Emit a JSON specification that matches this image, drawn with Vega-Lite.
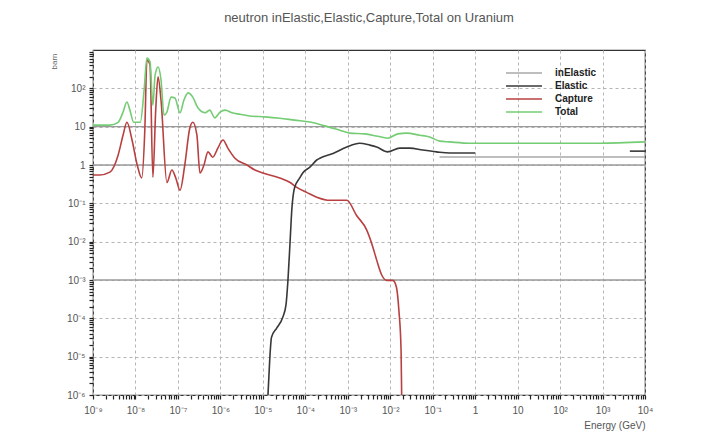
{
  "$schema": "https://vega.github.io/schema/vega-lite/v6.json",
  "width": 552,
  "height": 345,
  "autosize": {"type": "none"},
  "padding": {"left": 93, "top": 50, "right": 65, "bottom": 45},
  "background": "white",
  "title": {"text": "neutron inElastic,Elastic,Capture,Total on Uranium", "fontSize": 13, "font": "Liberation Sans", "fontWeight": "normal", "color": "#555555", "anchor": "middle", "offset": 22},
  "config": {"view": {"stroke": "#333333", "strokeWidth": 1.2}, "font": "Liberation Sans", "axis": {"ticks": true}},
  "layer": [
    {
      "data": {"values": [{"level": 10}, {"level": 1}, {"level": 0.001}]},
      "mark": {"type": "rule", "color": "#9a9a9a", "strokeWidth": 1.3},
      "encoding": {
        "y": {"field": "level", "type": "quantitative", "scale": {"type": "log", "domain": [1e-6, 1000]}}
      }
    },
    {
      "data": {"values": [
        {"series": "Capture", "seg": "c", "E": 1.0e-9, "s": 0.55},
        {"series": "Capture", "seg": "c", "E": 1.45e-9, "s": 0.55},
        {"series": "Capture", "seg": "c", "E": 2.5e-9, "s": 0.65},
        {"series": "Capture", "seg": "c", "E": 3.9e-9, "s": 1.8},
        {"series": "Capture", "seg": "c", "E": 5.1e-9, "s": 6.0},
        {"series": "Capture", "seg": "c", "E": 6.3e-9, "s": 13},
        {"series": "Capture", "seg": "c", "E": 8.3e-9, "s": 4.5},
        {"series": "Capture", "seg": "c", "E": 1.1e-8, "s": 1.0},
        {"series": "Capture", "seg": "c", "E": 1.4e-8, "s": 0.46},
        {"series": "Capture", "seg": "c", "E": 1.66e-8, "s": 8.1},
        {"series": "Capture", "seg": "c", "E": 1.86e-8, "s": 550},
        {"series": "Capture", "seg": "c", "E": 2.2e-8, "s": 410},
        {"series": "Capture", "seg": "c", "E": 2.57e-8, "s": 0.48},
        {"series": "Capture", "seg": "c", "E": 3.0e-8, "s": 27},
        {"series": "Capture", "seg": "c", "E": 3.4e-8, "s": 200},
        {"series": "Capture", "seg": "c", "E": 4.0e-8, "s": 49},
        {"series": "Capture", "seg": "c", "E": 5.5e-8, "s": 0.35},
        {"series": "Capture", "seg": "c", "E": 7.2e-8, "s": 0.74},
        {"series": "Capture", "seg": "c", "E": 8.9e-8, "s": 0.46},
        {"series": "Capture", "seg": "c", "E": 1.12e-7, "s": 0.22},
        {"series": "Capture", "seg": "c", "E": 1.45e-7, "s": 1.0},
        {"series": "Capture", "seg": "c", "E": 1.9e-7, "s": 9.1},
        {"series": "Capture", "seg": "c", "E": 2.24e-7, "s": 13},
        {"series": "Capture", "seg": "c", "E": 2.8e-7, "s": 6.0},
        {"series": "Capture", "seg": "c", "E": 3.3e-7, "s": 0.62},
        {"series": "Capture", "seg": "c", "E": 4.1e-7, "s": 1.0},
        {"series": "Capture", "seg": "c", "E": 5.1e-7, "s": 2.2},
        {"series": "Capture", "seg": "c", "E": 6.6e-7, "s": 1.6},
        {"series": "Capture", "seg": "c", "E": 8.7e-7, "s": 2.75},
        {"series": "Capture", "seg": "c", "E": 1.15e-6, "s": 4.5},
        {"series": "Capture", "seg": "c", "E": 1.5e-6, "s": 2.75},
        {"series": "Capture", "seg": "c", "E": 2.2e-6, "s": 1.5},
        {"series": "Capture", "seg": "c", "E": 4.2e-6, "s": 1.0},
        {"series": "Capture", "seg": "c", "E": 6.5e-6, "s": 0.74},
        {"series": "Capture", "seg": "c", "E": 1.0e-5, "s": 0.62},
        {"series": "Capture", "seg": "c", "E": 2.5e-5, "s": 0.46},
        {"series": "Capture", "seg": "c", "E": 4.4e-5, "s": 0.35},
        {"series": "Capture", "seg": "c", "E": 6.3e-5, "s": 0.26},
        {"series": "Capture", "seg": "c", "E": 1.1e-4, "s": 0.19},
        {"series": "Capture", "seg": "c", "E": 1.86e-4, "s": 0.145},
        {"series": "Capture", "seg": "c", "E": 3.8e-4, "s": 0.12},
        {"series": "Capture", "seg": "c", "E": 9.5e-4, "s": 0.12},
        {"series": "Capture", "seg": "c", "E": 1.6e-3, "s": 0.049},
        {"series": "Capture", "seg": "c", "E": 2.8e-3, "s": 0.02},
        {"series": "Capture", "seg": "c", "E": 3.9e-3, "s": 0.0072},
        {"series": "Capture", "seg": "c", "E": 4.8e-3, "s": 0.0033},
        {"series": "Capture", "seg": "c", "E": 6.3e-3, "s": 0.00135},
        {"series": "Capture", "seg": "c", "E": 8.3e-3, "s": 0.00098},
        {"series": "Capture", "seg": "c", "E": 1.15e-2, "s": 0.00098},
        {"series": "Capture", "seg": "c", "E": 1.4e-2, "s": 0.00065},
        {"series": "Capture", "seg": "c", "E": 1.6e-2, "s": 0.00016},
        {"series": "Capture", "seg": "c", "E": 1.8e-2, "s": 1.5e-5},
        {"series": "Capture", "seg": "c", "E": 1.86e-2, "s": 1e-6},
        {"series": "Elastic", "seg": "e1", "E": 1.32e-5, "s": 1e-6},
        {"series": "Elastic", "seg": "e1", "E": 1.45e-5, "s": 8.1e-6},
        {"series": "Elastic", "seg": "e1", "E": 1.6e-5, "s": 3.2e-5},
        {"series": "Elastic", "seg": "e1", "E": 2.1e-5, "s": 5.5e-5},
        {"series": "Elastic", "seg": "e1", "E": 2.95e-5, "s": 1.07e-4},
        {"series": "Elastic", "seg": "e1", "E": 3.5e-5, "s": 2.2e-4},
        {"series": "Elastic", "seg": "e1", "E": 3.9e-5, "s": 9.8e-4},
        {"series": "Elastic", "seg": "e1", "E": 4.4e-5, "s": 0.011},
        {"series": "Elastic", "seg": "e1", "E": 4.8e-5, "s": 0.066},
        {"series": "Elastic", "seg": "e1", "E": 5.6e-5, "s": 0.26},
        {"series": "Elastic", "seg": "e1", "E": 7.4e-5, "s": 0.46},
        {"series": "Elastic", "seg": "e1", "E": 8.7e-5, "s": 0.62},
        {"series": "Elastic", "seg": "e1", "E": 1.3e-4, "s": 0.89},
        {"series": "Elastic", "seg": "e1", "E": 1.86e-4, "s": 1.35},
        {"series": "Elastic", "seg": "e1", "E": 2.2e-4, "s": 1.5},
        {"series": "Elastic", "seg": "e1", "E": 4.5e-4, "s": 2.0},
        {"series": "Elastic", "seg": "e1", "E": 9.5e-4, "s": 2.95},
        {"series": "Elastic", "seg": "e1", "E": 1.9e-3, "s": 3.7},
        {"series": "Elastic", "seg": "e1", "E": 3.3e-3, "s": 3.3},
        {"series": "Elastic", "seg": "e1", "E": 4.8e-3, "s": 2.95},
        {"series": "Elastic", "seg": "e1", "E": 8.7e-3, "s": 2.2},
        {"series": "Elastic", "seg": "e1", "E": 1.66e-2, "s": 2.75},
        {"series": "Elastic", "seg": "e1", "E": 2.9e-2, "s": 2.75},
        {"series": "Elastic", "seg": "e1", "E": 5.8e-2, "s": 2.45},
        {"series": "Elastic", "seg": "e1", "E": 0.123, "s": 2.2},
        {"series": "Elastic", "seg": "e1", "E": 0.25, "s": 2.05},
        {"series": "Elastic", "seg": "e1", "E": 0.74, "s": 2.05},
        {"series": "Elastic", "seg": "e1", "E": 1.0, "s": 2.05},
        {"series": "Elastic", "seg": "e2", "E": 4400, "s": 2.3},
        {"series": "Elastic", "seg": "e2", "E": 10000, "s": 2.3},
        {"series": "inElastic", "seg": "i", "E": 0.145, "s": 1.62},
        {"series": "inElastic", "seg": "i", "E": 10000, "s": 1.62},
        {"series": "Total", "seg": "t", "E": 1.0e-9, "s": 11},
        {"series": "Total", "seg": "t", "E": 2.5e-9, "s": 11},
        {"series": "Total", "seg": "t", "E": 3.9e-9, "s": 13},
        {"series": "Total", "seg": "t", "E": 5.1e-9, "s": 24},
        {"series": "Total", "seg": "t", "E": 6.3e-9, "s": 44},
        {"series": "Total", "seg": "t", "E": 7.4e-9, "s": 27},
        {"series": "Total", "seg": "t", "E": 9.1e-9, "s": 13},
        {"series": "Total", "seg": "t", "E": 1.3e-8, "s": 13},
        {"series": "Total", "seg": "t", "E": 1.6e-8, "s": 91},
        {"series": "Total", "seg": "t", "E": 1.86e-8, "s": 620},
        {"series": "Total", "seg": "t", "E": 2.2e-8, "s": 490},
        {"series": "Total", "seg": "t", "E": 2.57e-8, "s": 36},
        {"series": "Total", "seg": "t", "E": 2.9e-8, "s": 220},
        {"series": "Total", "seg": "t", "E": 3.4e-8, "s": 360},
        {"series": "Total", "seg": "t", "E": 4.0e-8, "s": 165},
        {"series": "Total", "seg": "t", "E": 4.7e-8, "s": 20},
        {"series": "Total", "seg": "t", "E": 5.5e-8, "s": 24},
        {"series": "Total", "seg": "t", "E": 6.9e-8, "s": 59},
        {"series": "Total", "seg": "t", "E": 8.5e-8, "s": 56},
        {"series": "Total", "seg": "t", "E": 1.12e-7, "s": 23},
        {"series": "Total", "seg": "t", "E": 1.38e-7, "s": 49},
        {"series": "Total", "seg": "t", "E": 1.74e-7, "s": 76},
        {"series": "Total", "seg": "t", "E": 2.24e-7, "s": 59},
        {"series": "Total", "seg": "t", "E": 2.95e-7, "s": 31},
        {"series": "Total", "seg": "t", "E": 4.4e-7, "s": 23},
        {"series": "Total", "seg": "t", "E": 5.6e-7, "s": 27},
        {"series": "Total", "seg": "t", "E": 7.4e-7, "s": 17},
        {"series": "Total", "seg": "t", "E": 9.8e-7, "s": 24},
        {"series": "Total", "seg": "t", "E": 1.3e-6, "s": 27},
        {"series": "Total", "seg": "t", "E": 1.86e-6, "s": 23},
        {"series": "Total", "seg": "t", "E": 2.9e-6, "s": 21},
        {"series": "Total", "seg": "t", "E": 4.9e-6, "s": 19},
        {"series": "Total", "seg": "t", "E": 1.12e-5, "s": 18},
        {"series": "Total", "seg": "t", "E": 2.5e-5, "s": 16.6},
        {"series": "Total", "seg": "t", "E": 5.6e-5, "s": 14.8},
        {"series": "Total", "seg": "t", "E": 1.3e-4, "s": 13.2},
        {"series": "Total", "seg": "t", "E": 2.9e-4, "s": 10.5},
        {"series": "Total", "seg": "t", "E": 6.5e-4, "s": 8.1},
        {"series": "Total", "seg": "t", "E": 1.12e-3, "s": 6.8},
        {"series": "Total", "seg": "t", "E": 2.5e-3, "s": 6.5},
        {"series": "Total", "seg": "t", "E": 5.1e-3, "s": 5.6},
        {"series": "Total", "seg": "t", "E": 8.7e-3, "s": 5.0},
        {"series": "Total", "seg": "t", "E": 1.5e-2, "s": 6.5},
        {"series": "Total", "seg": "t", "E": 2.45e-2, "s": 6.8},
        {"series": "Total", "seg": "t", "E": 4.9e-2, "s": 6.0},
        {"series": "Total", "seg": "t", "E": 8.5e-2, "s": 5.4},
        {"series": "Total", "seg": "t", "E": 0.145, "s": 4.2},
        {"series": "Total", "seg": "t", "E": 0.25, "s": 4.0},
        {"series": "Total", "seg": "t", "E": 0.74, "s": 3.7},
        {"series": "Total", "seg": "t", "E": 33, "s": 3.7},
        {"series": "Total", "seg": "t", "E": 850, "s": 3.7},
        {"series": "Total", "seg": "t", "E": 10000, "s": 4.0}
      ]},
      "mark": {"type": "line", "strokeWidth": 1.6, "clip": true, "interpolate": "monotone"},
      "encoding": {
        "x": {
          "field": "E", "type": "quantitative",
          "scale": {"type": "log", "domain": [1e-9, 10000]},
          "axis": {
            "title": "Energy (GeV)", "titleFontSize": 10, "titleFontWeight": "normal", "titleColor": "#555555",
            "titleAnchor": "end", "titleAlign": "right", "titleX": 552, "titleY": 30, "titleBaseline": "middle",
            "values": [1e-9,2e-9,3e-9,4e-9,5e-9,6e-9,7e-9,8e-9,9e-9,1e-8,2e-8,3e-8,4e-8,5e-8,6e-8,7e-8,8e-8,9e-8,1e-7,2e-7,3e-7,4e-7,5e-7,6e-7,7e-7,8e-7,9e-7,1e-6,2e-6,3e-6,4e-6,5e-6,6e-6,7e-6,8e-6,9e-6,1e-5,2e-5,3e-5,4e-5,5e-5,6e-5,7e-5,8e-5,9e-5,1e-4,2e-4,3e-4,4e-4,5e-4,6e-4,7e-4,8e-4,9e-4,1e-3,2e-3,3e-3,4e-3,5e-3,6e-3,7e-3,8e-3,9e-3,1e-2,2e-2,3e-2,4e-2,5e-2,6e-2,7e-2,8e-2,9e-2,0.1,0.2,0.3,0.4,0.5,0.6,0.7,0.8,0.9,1,2,3,4,5,6,7,8,9,10,20,30,40,50,60,70,80,90,100,200,300,400,500,600,700,800,900,1000,2000,3000,4000,5000,6000,7000,8000,9000,10000],
            "labelExpr": "abs(log(datum.value)/LN10-round(log(datum.value)/LN10))>0.001?'':datum.value==1?'1':datum.value==10?'10':'10'+(round(log(datum.value)/LN10)<0?'⁻':'')+substring('⁰¹²³⁴⁵⁶⁷⁸⁹',abs(round(log(datum.value)/LN10)),abs(round(log(datum.value)/LN10))+1)",
            "labelFontSize": 10, "labelColor": "#555555", "labelFlush": false, "labelOverlap": false,
            "domain": false, "ticks": true,
            "tickSize": 4, "tickWidth": 1.2, "tickColor": "#222222",
            "tickOpacity": 1,
            "labelPadding": 6,
            "grid": true, "gridDash": [3, 3], "gridColor": "#b5b5b5",
            "gridOpacity": {"condition": {"test": "abs(log(datum.value)/LN10-round(log(datum.value)/LN10))<0.001", "value": 1}, "value": 0}
          }
        },
        "y": {
          "field": "s", "type": "quantitative",
          "scale": {"type": "log", "domain": [1e-6, 1000]},
          "axis": {
            "title": "barn", "titleFontSize": 8, "titleFontWeight": "normal", "titleColor": "#666666",
            "titleAngle": -90, "titleAlign": "right", "titleBaseline": "middle", "titleX": -39, "titleY": 3,
            "values": [1e-6,2e-6,3e-6,4e-6,5e-6,6e-6,7e-6,8e-6,9e-6,1e-5,2e-5,3e-5,4e-5,5e-5,6e-5,7e-5,8e-5,9e-5,1e-4,2e-4,3e-4,4e-4,5e-4,6e-4,7e-4,8e-4,9e-4,1e-3,2e-3,3e-3,4e-3,5e-3,6e-3,7e-3,8e-3,9e-3,1e-2,2e-2,3e-2,4e-2,5e-2,6e-2,7e-2,8e-2,9e-2,0.1,0.2,0.3,0.4,0.5,0.6,0.7,0.8,0.9,1,2,3,4,5,6,7,8,9,10,20,30,40,50,60,70,80,90,100,200,300,400,500,600,700,800,900],
            "labelExpr": "abs(log(datum.value)/LN10-round(log(datum.value)/LN10))>0.001?'':datum.value==1?'1':datum.value==10?'10':'10'+(round(log(datum.value)/LN10)<0?'⁻':'')+substring('⁰¹²³⁴⁵⁶⁷⁸⁹',abs(round(log(datum.value)/LN10)),abs(round(log(datum.value)/LN10))+1)",
            "labelFontSize": 10, "labelColor": "#555555", "labelFlush": false, "labelOverlap": false,
            "domain": false, "ticks": true,
            "tickSize": 4, "tickWidth": 1.2, "tickColor": "#222222",
            "tickOpacity": 1,
            "labelPadding": 4,
            "grid": true, "gridDash": [3, 3], "gridColor": "#b5b5b5",
            "gridOpacity": {"condition": {"test": "abs(log(datum.value)/LN10-round(log(datum.value)/LN10))<0.001", "value": 1}, "value": 0}
          }
        },
        "color": {
          "field": "series", "type": "nominal",
          "scale": {"domain": ["inElastic", "Elastic", "Capture", "Total"], "range": ["#a8a8a8", "#383838", "#b84040", "#74cc74"]},
          "legend": {
            "title": null, "orient": "none", "legendX": 424, "legendY": 16, "padding": 0,
            "symbolType": "M-3,0L3,0", "symbolSize": 144, "symbolStrokeWidth": 1.5,
            "labelFontSize": 10, "labelFontWeight": "bold", "labelColor": "#222222", "labelOffset": 24,
            "rowPadding": 1
          }
        },
        "detail": {"field": "seg"}
      }
    }
  ]
}
